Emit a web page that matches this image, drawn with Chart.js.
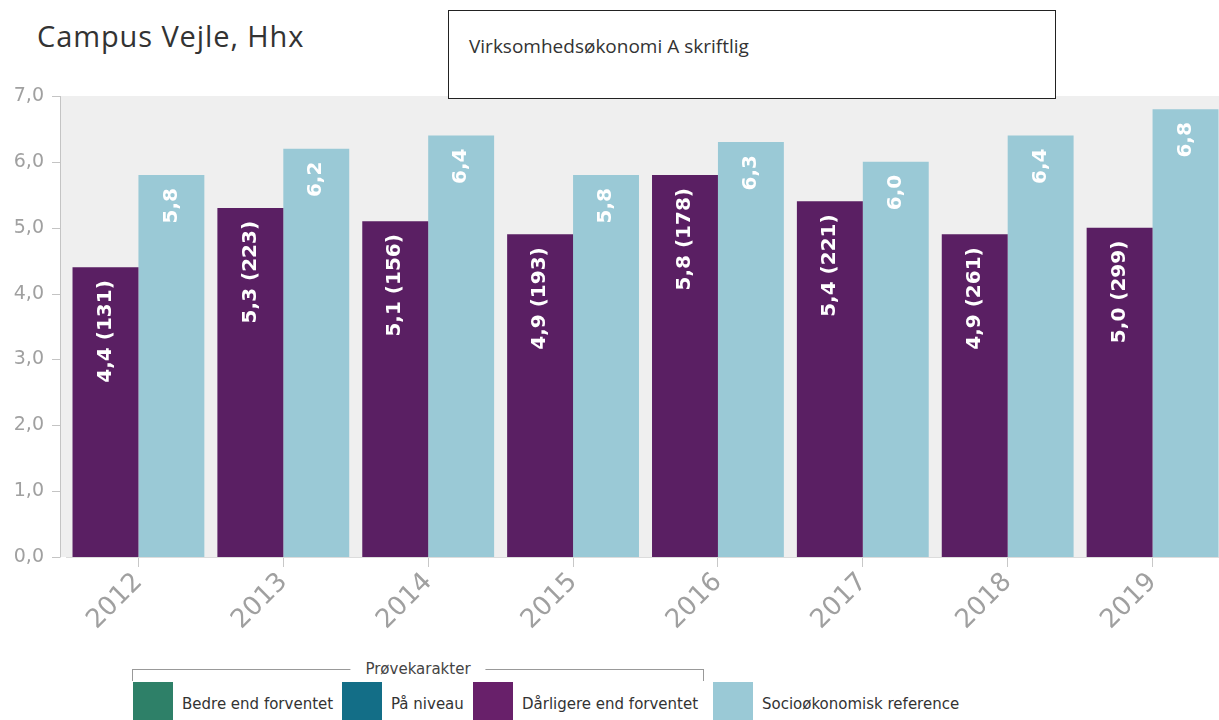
<!DOCTYPE html>
<html>
<head>
<meta charset="utf-8">
<script src="https://cdn.jsdelivr.net/npm/chart.js@4/dist/chart.umd.min.js"></script>
<style>
  html, body { margin: 0; padding: 0; background: #fff; }
  body { width: 1219px; height: 720px; position: relative; overflow: hidden; font-family: "Open Sans", sans-serif; }
  #wrap { position: absolute; left: 0; top: 0; width: 1225px; height: 660px; }
  #title { position: absolute; left: 37px; top: 21px; font-size: 29px; line-height: 1; letter-spacing: 0.9px; color: #333; }
  #box { position: absolute; left: 448px; top: 10px; width: 606px; height: 87px; border: 1px solid #222; background: #fff; z-index: 2; }
  #box span { position: absolute; left: 20px; top: 22px; font-size: 19px; color: #333; }
  .grp { position: absolute; left: 132px; top: 669px; width: 570px; height: 11px; border: 1px solid #999; border-bottom: none; }
  .grp span { position: absolute; left: 50%; top: -10px; transform: translateX(-50%); background: #fff; padding: 0 15px; font-family: "DejaVu Sans", sans-serif; font-size: 15px; line-height: 18px; color: #444; }
  .leg { position: absolute; top: 682px; display: flex; align-items: center; font-family: "DejaVu Sans", sans-serif; font-size: 15px; color: #333; }
  .leg i { display: inline-block; width: 40px; height: 44px; margin-right: 9px; }
</style>
</head>
<body>
<div id="title">Campus Vejle, Hhx</div>
<div id="box"><span>Virksomhedsøkonomi A skriftlig</span></div>
<div id="wrap"><canvas id="c"></canvas></div>
<div class="grp"><span>Prøvekarakter</span></div>
<div class="leg" style="left:133px"><i style="background:#2e8068"></i>Bedre end forventet</div>
<div class="leg" style="left:342px"><i style="background:#136e87"></i>På niveau</div>
<div class="leg" style="left:473px"><i style="background:#68206a"></i>Dårligere end forventet</div>
<div class="leg" style="left:713px"><i style="background:#9ac9d6"></i>Socioøkonomisk reference</div>
<script>
const years = ['2012', '2013', '2014', '2015', '2016', '2017', '2018', '2019'];
const grades = [4.4, 5.3, 5.1, 4.9, 5.8, 5.4, 4.9, 5.0];
const counts = [131, 223, 156, 193, 178, 221, 261, 299];
const reference = [5.8, 6.2, 6.4, 5.8, 6.3, 6.0, 6.4, 6.8];
const yTicks = [0, 1, 2, 3, 4, 5, 6, 7];

const fmt = v => v.toFixed(1).replace('.', ',');

// grey plot background + y axis line drawn a few px left of the bars
const bgPlugin = {
    id: 'bg',
    beforeDraw(chart) {
        const a = chart.chartArea, ctx = chart.ctx, y = chart.scales.y;
        const x0 = a.left - 6;
        ctx.save();
        ctx.fillStyle = '#efefef';
        ctx.fillRect(x0, a.top, a.right - x0, a.bottom - a.top);
        ctx.strokeStyle = '#c4c4c4';
        ctx.lineWidth = 1;
        ctx.beginPath();
        ctx.moveTo(x0 + 0.5, a.top);
        ctx.lineTo(x0 + 0.5, a.bottom);
        y.ticks.forEach(t => {
            const py = Math.round(y.getPixelForValue(t.value)) + 0.5;
            ctx.moveTo(x0 - 8, py);
            ctx.lineTo(x0 + 0.5, py);
        });
        ctx.stroke();
        ctx.restore();
    }
};

// vertical labels inside the bars, near the top
const labelPlugin = {
    id: 'barLabels',
    afterDatasetsDraw(chart) {
        const ctx = chart.ctx;
        chart.data.datasets.forEach((ds, di) => {
            chart.getDatasetMeta(di).data.forEach((bar, i) => {
                const txt = di == 0 ? fmt(grades[i]) + ' (' + counts[i] + ')' : fmt(reference[i]);
                ctx.save();
                ctx.translate(bar.x, bar.y + 13);
                ctx.rotate(-Math.PI / 2);
                ctx.fillStyle = '#fff';
                ctx.font = 'bold 20px "DejaVu Sans"';
                ctx.textAlign = 'right';
                ctx.textBaseline = 'middle';
                ctx.fillText(txt, 0, 0);
                ctx.restore();
            });
        });
    }
};

new Chart(document.getElementById('c'), {
    type: 'bar',
    data: {
        labels: years,
        datasets: [
            { label: 'Dårligere end forventet', data: grades, backgroundColor: '#5a1f63', categoryPercentage: 0.91, barPercentage: 1 },
            { label: 'Socioøkonomisk reference', data: reference, backgroundColor: '#9ac9d6', categoryPercentage: 0.91, barPercentage: 1 }
        ]
    },
    options: {
        responsive: true,
        maintainAspectRatio: false,
        animation: false,
        layout: { padding: { top: 96, right: 0, left: 0, bottom: 0 } },
        plugins: { legend: { display: false }, tooltip: { enabled: false } },
        scales: {
            x: {
                grid: { display: true, drawOnChartArea: false, offset: false, tickLength: 10, color: '#c8c8c8' },
                border: { color: '#dcdcdc' },
                ticks: { color: '#a0a0a0', font: { family: '"DejaVu Sans"', size: 26 }, minRotation: 45, maxRotation: 45, padding: 0 },
                afterFit(s) { s.height = 660 - 557; }
            },
            y: {
                min: 0, max: 7,
                afterBuildTicks(s) { s.ticks = yTicks.map(v => ({ value: v })); },
                grid: { display: false },
                border: { display: false },
                ticks: { color: '#a0a0a0', font: { family: '"DejaVu Sans"', size: 19 }, padding: 14, callback: v => fmt(v) },
                afterFit(s) { s.width = 66; }
            }
        }
    },
    plugins: [bgPlugin, labelPlugin]
});
</script>
</body>
</html>
